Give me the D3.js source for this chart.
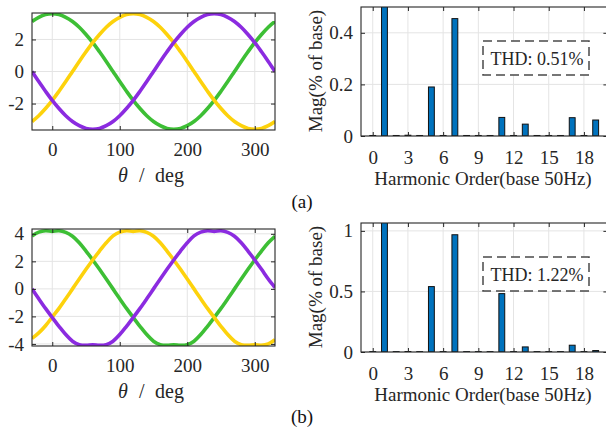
<!DOCTYPE html>
<html><head><meta charset="utf-8">
<script src="https://cdn.jsdelivr.net/npm/d3@7"></script>
<style>body{margin:0;background:#fff}svg{display:block}</style>
</head><body>
<svg id="c" width="606" height="430"></svg>
<script>
// ---------- data ----------
const theta = [-30,-20,-10,0,10,20,30,40,50,60,70,80,90,100,110,120,130,140,150,160,170,180,190,200,210,220,230,240,250,260,270,280,290,300,310,320,330];

// panel (a) phase voltages
const greenA  = [3.12,3.38,3.55,3.6,3.55,3.38,3.12,2.76,2.31,1.80,1.23,0.63,0,-0.63,-1.23,-1.80,-2.31,-2.76,-3.12,-3.38,-3.55,-3.6,-3.55,-3.38,-3.12,-2.76,-2.31,-1.80,-1.23,-0.63,0,0.63,1.23,1.80,2.31,2.76,3.12];
const yellowA = [-3.12,-2.76,-2.31,-1.80,-1.23,-0.63,0,0.63,1.23,1.80,2.31,2.76,3.12,3.38,3.55,3.6,3.55,3.38,3.12,2.76,2.31,1.80,1.23,0.63,0,-0.63,-1.23,-1.80,-2.31,-2.76,-3.12,-3.38,-3.55,-3.6,-3.55,-3.38,-3.12];
const purpleA = [0,-0.63,-1.23,-1.80,-2.31,-2.76,-3.12,-3.38,-3.55,-3.6,-3.55,-3.38,-3.12,-2.76,-2.31,-1.80,-1.23,-0.63,0,0.63,1.23,1.80,2.31,2.76,3.12,3.38,3.55,3.6,3.55,3.38,3.12,2.76,2.31,1.80,1.23,0.63,0];

// panel (b) phase voltages
const greenB  = [3.85,4.12,4.22,4.18,4.22,4.1,3.82,3.35,2.75,2.1,1.42,0.72,0,-0.72,-1.42,-2.08,-2.72,-3.32,-3.8,-4.05,-4.1,-4.07,-4.1,-4.05,-3.8,-3.32,-2.72,-2.08,-1.42,-0.72,0,0.72,1.42,2.1,2.75,3.35,3.82];
const yellowB = [-3.6,-3.2,-2.68,-2.05,-1.42,-0.72,0,0.72,1.42,2.1,2.75,3.35,3.85,4.12,4.22,4.18,4.22,4.1,3.82,3.35,2.75,2.1,1.42,0.72,0,-0.72,-1.42,-2.08,-2.72,-3.32,-3.8,-4.05,-4.1,-4.07,-4.1,-4.0,-3.7];
const purpleB = [0,-0.72,-1.42,-2.08,-2.72,-3.32,-3.8,-4.05,-4.1,-4.07,-4.1,-4.05,-3.8,-3.32,-2.72,-2.08,-1.42,-0.72,0,0.72,1.42,2.1,2.75,3.35,3.85,4.12,4.22,4.18,4.22,4.1,3.82,3.35,2.75,2.1,1.42,0.72,0.1];

// harmonic spectra (% of base)
const orders = [0,1,2,3,4,5,6,7,8,9,10,11,12,13,14,15,16,17,18,19];
const magA = [0.002,100,0.002,0.003,0.002,0.19,0.002,0.455,0.002,0.002,0.002,0.072,0.002,0.046,0.002,0.002,0.002,0.071,0.002,0.062];
const magB = [0.003,100,0.003,0.004,0.003,0.54,0.003,0.968,0.003,0.003,0.003,0.482,0.003,0.042,0.003,0.003,0.003,0.056,0.003,0.012];

const thdA = "THD: 0.51%";
const thdB = "THD: 1.22%";

const waveXTicks = [0,100,200,300];
const waveYTicksA = [-2,0,2];
const waveYTicksB = [-4,-2,0,2,4];
const harmXTicks = [0,3,6,9,12,15,18];
const harmYTicksA = [0,0.2,0.4];
const harmYTicksB = [0,0.5,1];

// ---------- drawing ----------
const FONT = "Liberation Serif, DejaVu Serif, serif";
const AX = "#262626", GRID = "#e4e4e4";
const COLORS = {green:"#3dbf35", yellow:"#fdd20c", purple:"#8b2be0"};
const svg = d3.select("#c");
let clipId = 0;

function frame(g, x, y, xt, yt) {
  const [x0,x1] = x.range(), [y1,y0] = y.range();
  g.append("g").selectAll("line").data(xt).join("line")
    .attr("x1", d=>x(d)).attr("x2", d=>x(d)).attr("y1", y0).attr("y2", y1)
    .attr("stroke", GRID).attr("stroke-width", 1);
  g.append("g").selectAll("line").data(yt).join("line")
    .attr("y1", d=>y(d)).attr("y2", d=>y(d)).attr("x1", x0).attr("x2", x1)
    .attr("stroke", GRID).attr("stroke-width", 1);
}
function axes(g, x, y, xt, yt, xPad) {
  const [x0,x1] = x.range(), [y1,y0] = y.range();
  const fmt = d => String(d);
  const style = sel => {
    sel.select(".domain").remove();
    sel.selectAll("line").attr("stroke", AX);
    sel.selectAll("text").style("font-family", FONT).attr("font-size", 19).attr("fill", AX);
  };
  g.append("g").attr("transform",`translate(0,${y1})`)
    .call(d3.axisBottom(x).tickValues(xt).tickFormat(fmt).tickSizeInner(-4).tickSizeOuter(0).tickPadding(xPad)).call(style);
  g.append("g").attr("transform",`translate(0,${y0})`)
    .call(d3.axisTop(x).tickValues(xt).tickFormat("").tickSizeInner(-4).tickSizeOuter(0)).call(style);
  g.append("g").attr("transform",`translate(${x0},0)`)
    .call(d3.axisLeft(y).tickValues(yt).tickFormat(fmt).tickSizeInner(-4).tickSizeOuter(0).tickPadding(8)).call(style);
  g.append("g").attr("transform",`translate(${x1},0)`)
    .call(d3.axisRight(y).tickValues(yt).tickFormat("").tickSizeInner(-4).tickSizeOuter(0)).call(style);
  g.append("rect").attr("x", x0).attr("y", y0).attr("width", x1-x0).attr("height", y1-y0)
    .attr("fill","none").attr("stroke", AX).attr("stroke-width", 1.1);
}
function clip(g, x, y) {
  const id = "clip"+(clipId++);
  const [x0,x1] = x.range(), [y1,y0] = y.range();
  svg.append("defs").append("clipPath").attr("id", id)
    .append("rect").attr("x", x0).attr("y", y0).attr("width", x1-x0).attr("height", y1-y0);
  return g.append("g").attr("clip-path", `url(#${id})`);
}
function txt(sel) { return sel.style("font-family", FONT).attr("fill", AX); }

function wavePanel(top, ydom, yt, series) {
  const g = svg.append("g");
  const x = d3.scaleLinear([-30,330],[32,275]);
  const y = d3.scaleLinear(ydom,[top+117, top]);
  frame(g, x, y, waveXTicks, yt);
  const c = clip(g, x, y);
  const line = d3.line().x((d,i)=>x(theta[i])).y(d=>y(d)).curve(d3.curveCatmullRom);
  series.forEach(([vals,col]) => {
    c.append("path").attr("d", line(vals)).attr("fill","none")
      .attr("stroke", col).attr("stroke-width", 3.6).attr("stroke-linejoin","round");
  });
  axes(g, x, y, waveXTicks, yt, 13);
  const t = txt(g.append("text")).attr("y", top+169).attr("font-size", 20);
  t.append("tspan").attr("x", 118).attr("font-style","italic").text("θ");
  t.append("tspan").attr("x", 139).text("/");
  t.append("tspan").attr("x", 155).text("deg");
}

function harmPanel(top, ymax, yt, mags, thd) {
  const g = svg.append("g");
  const x = d3.scaleLinear([-1,20],[361,607.4]);
  const y = d3.scaleLinear([0,ymax],[top+129, top]);
  frame(g, x, y, harmXTicks, yt);
  const c = clip(g, x, y);
  const bw = x(0.5) - x(0);
  c.selectAll("rect").data(orders).join("rect")
    .attr("x", d=>x(d)-bw/2).attr("width", bw)
    .attr("y", (d,i)=>y(mags[i])).attr("height", (d,i)=>y(0)-y(mags[i]))
    .attr("fill","#0072bd").attr("stroke","#111").attr("stroke-width",1);
  axes(g, x, y, harmXTicks, yt, 15);
  txt(g.append("text")).attr("transform",`translate(322,${top+64}) rotate(-90)`)
    .attr("text-anchor","middle").attr("font-size", 19).text("Mag(% of base)");
  txt(g.append("text")).attr("x", 483).attr("y", top+178).attr("text-anchor","middle")
    .attr("font-size", 19).text("Harmonic Order(base 50Hz)");
  g.append("rect").attr("x",483).attr("y",top+34).attr("width",106).attr("height",34)
    .attr("fill","#fff").attr("stroke","#4a4a4a").attr("stroke-width",1.5).attr("stroke-dasharray","9,5");
  txt(g.append("text")).attr("x", 537).attr("y", top+58).attr("text-anchor","middle")
    .attr("font-size", 18).text(thd);
}

wavePanel(13, [-3.65,3.65], waveYTicksA, [[greenA,COLORS.green],[yellowA,COLORS.yellow],[purpleA,COLORS.purple]]);
harmPanel(7, 0.5, harmYTicksA, magA, thdA);
wavePanel(229, [-4.15,4.35], waveYTicksB, [[greenB,COLORS.green],[yellowB,COLORS.yellow],[purpleB,COLORS.purple]]);
harmPanel(223, 1.065, harmYTicksB, magB, thdB);

txt(svg.append("text")).attr("x",302).attr("y",208).attr("text-anchor","middle")
  .attr("font-size", 19).attr("fill","#111").text("(a)");
txt(svg.append("text")).attr("x",302).attr("y",423).attr("text-anchor","middle")
  .attr("font-size", 19).attr("fill","#111").text("(b)");
</script>
</body></html>
